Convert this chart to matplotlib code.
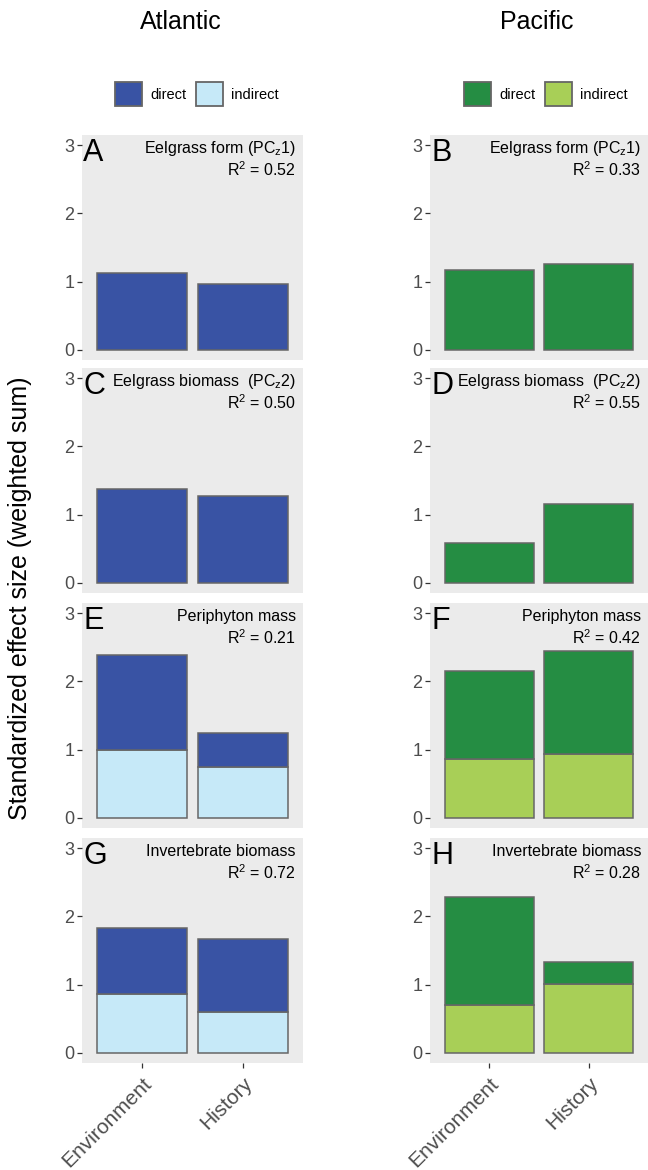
import matplotlib
matplotlib.use("Agg")
import matplotlib.pyplot as plt
from matplotlib.patches import Patch
import numpy as np

plt.rcParams["font.family"] = ["Liberation Sans", "DejaVu Sans"]
plt.rcParams["mathtext.fontset"] = "custom"
plt.rcParams["mathtext.rm"] = "Liberation Sans"
plt.rcParams["mathtext.it"] = "Liberation Sans:italic"
plt.rcParams["mathtext.bf"] = "Liberation Sans:bold"

# --- data ---
categories = ["Environment", "History"]
oceans = ["Atlantic", "Pacific"]
responses = ["Eelgrass form (PC$_\\mathrm{z}$1)", "Eelgrass biomass  (PC$_\\mathrm{z}$2)",
             "Periphyton mass", "Invertebrate biomass"]

# Atlantic: direct and indirect effects, per response row
atl_direct = [[1.13, 0.96], [1.38, 1.28], [1.39, 0.50], [0.97, 1.075]]
atl_indirect = [[0.0, 0.0], [0.0, 0.0], [1.00, 0.75], [0.86, 0.60]]
atl_r2 = ["0.52", "0.50", "0.21", "0.72"]
atl_letters = ["A", "C", "E", "G"]

# Pacific
pac_direct = [[1.17, 1.26], [0.59, 1.16], [1.30, 1.51], [1.58, 0.32]]
pac_indirect = [[0.0, 0.0], [0.0, 0.0], [0.86, 0.94], [0.70, 1.01]]
pac_r2 = ["0.33", "0.55", "0.42", "0.28"]
pac_letters = ["B", "D", "F", "H"]

colors = {"Atlantic": ("#3953A4", "#C6E9F8"), "Pacific": ("#258D43", "#A8CF57")}

# --- layout ---
W, H = 648, 1170
fig = plt.figure(figsize=(W / 100, H / 100), dpi=100)

col_left = [82, 430]
col_width = [221, 218]
row_top = [135, 368, 603, 838]
row_h = 225

x = np.arange(1, len(categories) + 1)

for c, ocean in enumerate(oceans):
    direct = atl_direct if ocean == "Atlantic" else pac_direct
    indirect = atl_indirect if ocean == "Atlantic" else pac_indirect
    r2 = atl_r2 if ocean == "Atlantic" else pac_r2
    letters = atl_letters if ocean == "Atlantic" else pac_letters
    c_dir, c_ind = colors[ocean]

    for r in range(4):
        ax = fig.add_axes([col_left[c] / W, 1 - (row_top[r] + row_h) / H,
                           col_width[c] / W, row_h / H])
        ax.set_facecolor("#EBEBEB")
        for s in ax.spines.values():
            s.set_visible(False)

        ind = np.array(indirect[r])
        dr = np.array(direct[r])
        if ind.sum() > 0:
            ax.bar(x, ind, width=0.9, color=c_ind, edgecolor="#666666", linewidth=1.1)
        ax.bar(x, dr, bottom=ind, width=0.9, color=c_dir, edgecolor="#666666", linewidth=1.1)

        ax.set_xlim(0.4, 2.6)
        ax.set_ylim(-0.15, 3.15)
        ax.set_yticks([0, 1, 2, 3])
        ax.tick_params(axis="y", length=3.6, width=0.9, color="#333333",
                       labelsize=13, labelcolor="#4D4D4D", pad=2)

        if r == 3:
            ax.set_xticks(x)
            ax.set_xticklabels(categories, rotation=45, ha="right", va="top",
                               rotation_mode="anchor", fontsize=15, color="#4D4D4D")
            ax.tick_params(axis="x", length=3.6, width=0.9, color="#333333", pad=4)
        else:
            ax.set_xticks([])

        ax.text(0.005, 0.985, letters[r], transform=ax.transAxes, fontsize=22,
                ha="left", va="top", color="black")
        ax.text(0.968, 0.938, responses[r], transform=ax.transAxes, fontsize=11.5,
                ha="right", va="center", color="black")
        ax.text(0.968, 0.844, "R$^\\mathrm{2}$ = " + r2[r], transform=ax.transAxes,
                fontsize=11.5, ha="right", va="center", color="black")

        if r == 0:
            handles = [Patch(facecolor=c_dir, edgecolor="#666666", linewidth=1.3, label="direct"),
                       Patch(facecolor=c_ind, edgecolor="#666666", linewidth=1.3, label="indirect")]
            leg_x = [197, 546][c]
            fig.legend(handles=handles, loc="center", ncol=2, frameon=False,
                       bbox_to_anchor=(leg_x / W, 1 - 94 / H), fontsize=10.5,
                       handlelength=1.85, handleheight=2.2, handletextpad=0.6,
                       columnspacing=0.6)

# column titles
fig.text(181 / W, 1 - 22 / H, "Atlantic", fontsize=18, ha="center", va="center")
fig.text(537 / W, 1 - 22 / H, "Pacific", fontsize=18, ha="center", va="center")

fig.text(20 / W, 1 - 598 / H, "Standardized effect size (weighted sum)", fontsize=18,
         rotation=90, ha="center", va="center")

plt.savefig("out.png", dpi=100)
